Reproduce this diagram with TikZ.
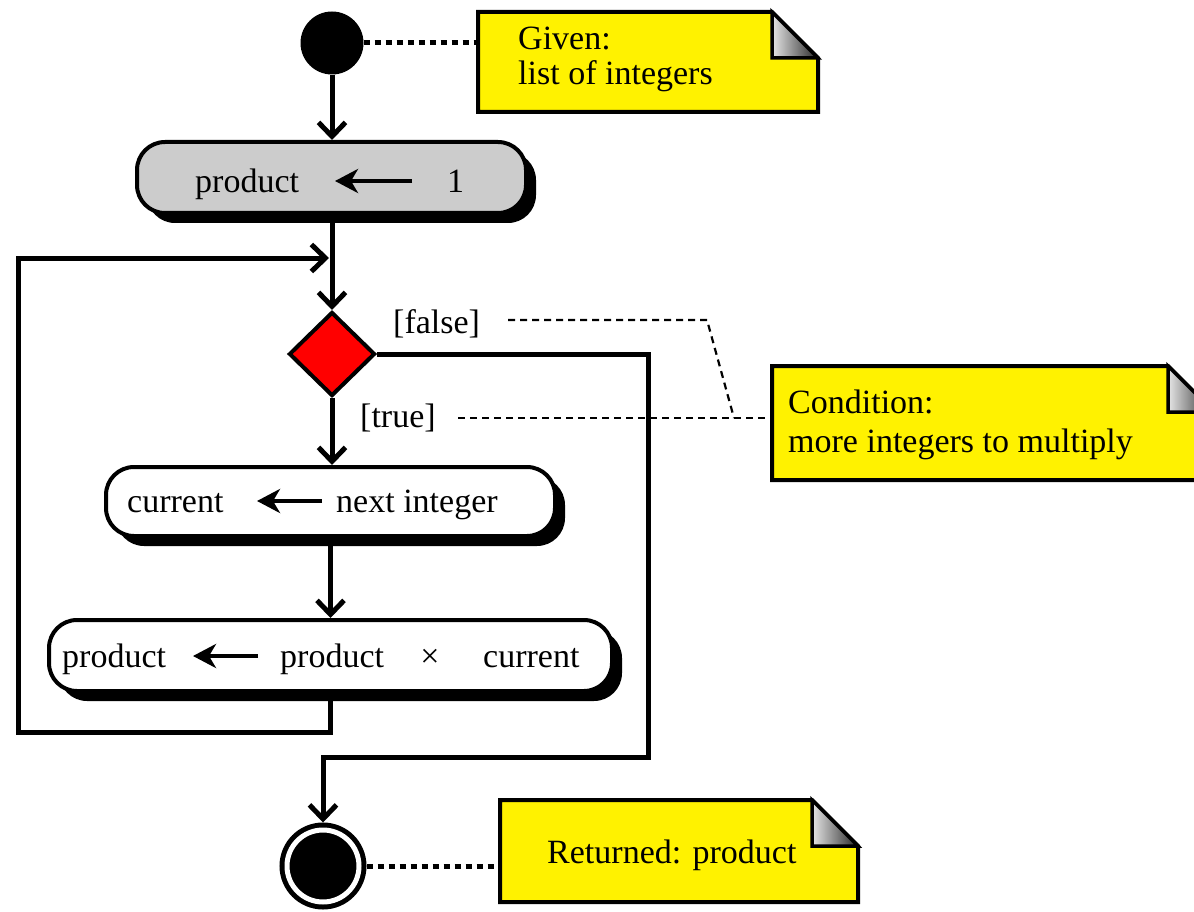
\documentclass[tikz,border=0pt]{standalone}
\usepackage{fontspec}
\setmainfont{Liberation Serif}
\usetikzlibrary{arrows.meta,shapes.geometric,shadows,calc}
\definecolor{boxgray}{RGB}{204,204,204}

\tikzset{
  flow/.style={line width=5pt, -{Straight Barb[length=14pt,width=27pt]}},
  actbox/.style={rectangle, rounded corners=28pt, draw, line width=4pt, inner sep=0pt,
    general shadow={fill=black, shadow xshift=10pt, shadow yshift=-10pt}},
  noteframe/.style={rectangle, inner sep=0pt, outer sep=0pt},
  notefill/.style={fill=yellow, draw=black, line width=4pt, line join=miter},
  fold/.style={left color=black!10, right color=black!85, draw=black, line width=3.5pt, line join=miter},
  txt/.style={anchor=base west, inner sep=0pt},
  dotlink/.style={line width=5pt, dash pattern=on 6pt off 5pt},
  dashlink/.style={line width=2.2pt, dash pattern=on 7pt off 5pt},
  txtarrow/.style={line width=4.5pt, -{Stealth[length=23pt,width=24pt,inset=7pt]}},
}

\begin{document}
\begin{tikzpicture}[x=1pt, y=-1pt, font=\fontsize{34}{38}\selectfont]
\useasboundingbox (0,0) rectangle (1194,912);
\clip (0,0) rectangle (1194,912);

% ---- notes (dog-eared yellow sheets) ----
\node[noteframe, minimum width=340pt, minimum height=100pt] (given) at (648,62) {};
\node[noteframe, minimum width=442pt, minimum height=114pt] (cond) at (993,423) {};
\node[noteframe, minimum width=358pt, minimum height=102pt] (ret) at (679,851) {};
\foreach \n in {given,cond,ret} {
  \draw[notefill] (\n.north west) -- ([xshift=-46pt]\n.north east)
    -- ([yshift=-46pt]\n.north east) -- (\n.south east) -- (\n.south west) -- cycle;
  \draw[fold] ([xshift=-46pt]\n.north east) -- ([xshift=-46pt,yshift=-46pt]\n.north east)
    -- ([yshift=-46pt]\n.north east) -- cycle;
}
\node[txt] (given1) at (518,50) {Given:};
\node[txt] (given2) at (518,85) {list of integers};
\node[txt] (cond1) at (788,413) {Condition:};
\node[txt] (cond2) at (788,452) {more integers to multiply};
\node[txt] (ret1) at (547,863) {Returned: product};

% ---- start and end ----
\node[circle, fill=black, minimum size=63pt, inner sep=0pt] (start) at (332,43) {};
\node[circle, fill=black, draw=black, line width=5pt, double=white, double distance=5pt,
      minimum size=72pt, inner sep=0pt, outer sep=7.5pt] (endc) at (323,866) {};

\draw[dotlink] (start.east) -- (start.east -| given.west);
\draw[dotlink] (endc.east) -- (endc.east -| ret.west);

% ---- actions ----
\node[actbox, fill=boxgray, minimum width=389pt, minimum height=71pt] (b1) at (331.5,177.5) {};
\node[txt] (b1a) at (195,193) {product};
\node[txt] (b1b) at (447,193) {1};
\draw[txtarrow] (412,181) -- (335,181);

\node[actbox, fill=white, minimum width=449pt, minimum height=69pt] (b2) at (330.5,501.5) {};
\node[txt] (b2a) at (127,512) {current};
\node[txt] (b2b) at (336,512) {next integer};
\draw[txtarrow] (322,501) -- (257,501);

\node[actbox, fill=white, minimum width=563pt, minimum height=71pt] (b3) at (330.5,655.5) {};
\node[txt] (b3a) at (62,667) {product};
\node[txt] (b3b) at (280,667) {product};
\node[anchor=base, inner sep=0pt] (b3c) at (430,667) {×};
\node[txt] (b3d) at (483,667) {current};
\draw[txtarrow] (258,656) -- (193,656);

% ---- decision ----
\node[diamond, aspect=1, fill=red, draw=black, line width=4pt, inner sep=0pt,
      minimum width=86pt, minimum height=84pt] (d) at (332,354) {};
\node[txt] (lf) at (393,333) {[false]};
\node[txt] (lt) at (360,427) {[true]};

% ---- guard comments ----
\coordinate (fa) at (508,320);
\coordinate (fb) at (707,320);
\coordinate (fc) at (734,418);
\coordinate (ta) at (458,418);
\draw[dashlink] (fa) -- (fb) -- (fc);
\draw[dashlink] (ta) -- (ta -| cond.west);

% ---- control flow ----
\coordinate (lp) at (18,732);
\coordinate (lpin) at (329,258);
\coordinate (fr) at (648,757);
\draw[flow] (start.south) -- (start.south |- b1.north);
\draw[flow] (d.north |- b1.south) -- (d.north);
\draw[flow] (d.south) -- (d.south |- b2.north);
\draw[flow] (b2.south -| b3.north) -- (b3.north);
\draw[flow] (b3.south) |- (lp) |- (lpin);
\draw[flow] (d.east) -| (fr) -| (endc.north);
\end{tikzpicture}
\end{document}
